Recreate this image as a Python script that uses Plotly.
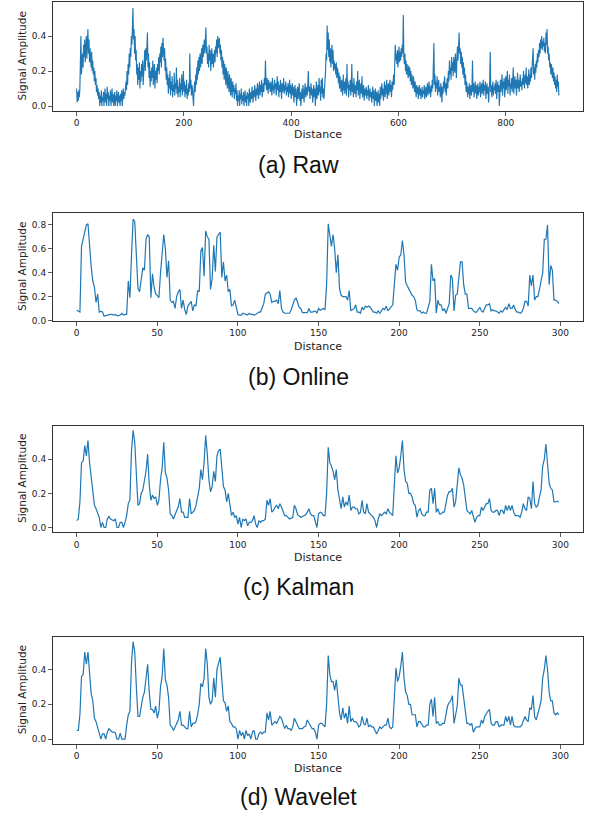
import plotly.graph_objects as go

raw = [
0.10,0.02,0.08,0.03,0.09,0.05,0.10,0.22,0.40,0.18,
0.25,0.30,0.22,0.35,0.28,0.38,0.25,0.32,0.40,0.27,
0.36,0.44,0.30,0.38,0.25,0.33,0.28,0.22,0.31,0.20,
0.26,0.18,0.22,0.14,0.20,0.12,0.16,0.08,0.12,0.06,
0.10,0.04,0.08,0.00,0.06,0.02,0.09,0.00,0.05,0.03,
0.08,0.00,0.06,0.10,0.02,0.07,0.00,0.11,0.04,0.08,
0.00,0.06,0.03,0.09,0.00,0.05,0.10,0.02,0.07,0.00,
0.04,0.08,0.00,0.06,0.03,0.09,0.00,0.05,0.08,0.02,
0.06,0.00,0.07,0.03,0.09,0.00,0.05,0.10,0.04,0.08,
0.06,0.10,0.14,0.09,0.20,0.12,0.24,0.18,0.30,0.22,
0.33,0.28,0.40,0.35,0.48,0.56,0.38,0.44,0.30,0.40,
0.26,0.32,0.18,0.24,0.12,0.22,0.15,0.25,0.10,0.20,
0.14,0.24,0.17,0.26,0.12,0.22,0.18,0.32,0.20,0.33,
0.26,0.34,0.42,0.22,0.30,0.16,0.25,0.11,0.20,0.14,
0.22,0.16,0.26,0.12,0.18,0.24,0.10,0.20,0.15,0.22,
0.13,0.24,0.20,0.28,0.18,0.30,0.25,0.34,0.22,0.36,
0.28,0.39,0.30,0.26,0.33,0.20,0.27,0.15,0.22,0.12,
0.18,0.07,0.16,0.10,0.20,0.06,0.14,0.09,0.17,0.05,
0.12,0.08,0.19,0.06,0.13,0.10,0.22,0.07,0.15,0.05,
0.11,0.08,0.16,0.05,0.13,0.09,0.18,0.06,0.12,0.20,
0.08,0.14,0.05,0.12,0.07,0.15,0.04,0.10,0.06,0.13,
0.08,0.30,0.10,0.15,0.06,0.12,0.09,0.03,0.00,0.10,
0.14,0.08,0.18,0.12,0.22,0.15,0.26,0.18,0.28,0.20,
0.30,0.22,0.26,0.33,0.24,0.35,0.28,0.32,0.38,0.30,
0.36,0.45,0.30,0.34,0.24,0.30,0.22,0.35,0.26,0.32,
0.20,0.28,0.33,0.24,0.30,0.22,0.27,0.32,0.25,0.34,
0.30,0.38,0.28,0.40,0.33,0.36,0.39,0.30,0.35,0.26,
0.32,0.22,0.28,0.18,0.26,0.15,0.24,0.20,0.12,0.22,
0.16,0.10,0.20,0.14,0.08,0.18,0.12,0.06,0.16,0.10,
0.05,0.14,0.08,0.12,0.04,0.10,0.07,0.13,0.03,0.09,
0.00,0.06,0.03,0.09,0.00,0.07,0.04,0.10,0.01,0.06,
0.03,0.08,0.00,0.05,0.09,0.02,0.06,0.00,0.08,0.04,
0.07,0.00,0.10,0.05,0.02,0.08,0.04,0.11,0.06,0.02,
0.09,0.05,0.12,0.07,0.03,0.10,0.06,0.13,0.08,0.04,
0.11,0.14,0.06,0.12,0.08,0.15,0.05,0.10,0.13,0.08,
0.16,0.12,0.26,0.14,0.09,0.16,0.11,0.07,0.15,0.10,
0.13,0.08,0.14,0.11,0.06,0.16,0.09,0.12,0.07,0.15,
0.10,0.13,0.06,0.11,0.17,0.09,0.14,0.05,0.12,0.08,
0.15,0.10,0.04,0.13,0.08,0.11,0.16,0.07,0.12,0.09,
0.14,0.06,0.11,0.08,0.13,0.05,0.10,0.15,0.07,0.12,
0.04,0.09,0.13,0.06,0.11,0.02,0.08,0.12,0.05,0.10,
0.00,0.07,0.11,0.04,0.09,0.13,0.03,0.08,0.00,0.06,
0.10,0.04,0.12,0.07,0.02,0.09,0.13,0.05,0.08,0.11,
0.06,0.12,0.20,0.08,0.11,0.04,0.09,0.13,0.06,0.10,
0.02,0.08,0.12,0.05,0.10,0.00,0.07,0.14,0.04,0.09,
0.12,0.06,0.16,0.08,0.11,0.03,0.15,0.07,0.16,0.05,
0.10,0.04,0.08,0.13,0.20,0.30,0.26,0.46,0.32,0.42,
0.28,0.38,0.25,0.33,0.22,0.30,0.35,0.24,0.32,0.20,
0.26,0.21,0.24,0.18,0.25,0.16,0.22,0.20,0.13,0.19,
0.10,0.17,0.12,0.08,0.15,0.11,0.06,0.18,0.09,0.14,
0.07,0.12,0.16,0.06,0.24,0.10,0.14,0.05,0.12,0.09,
0.15,0.06,0.11,0.24,0.08,0.13,0.05,0.16,0.10,0.07,
0.12,0.05,0.14,0.09,0.20,0.06,0.11,0.15,0.04,0.10,
0.13,0.07,0.17,0.05,0.09,0.12,0.03,0.10,0.06,0.08,
0.11,0.04,0.09,0.06,0.12,0.03,0.07,0.10,0.05,0.08,
0.02,0.07,0.11,0.04,0.09,0.00,0.06,0.10,0.03,0.08,
0.00,0.05,0.09,0.02,0.07,0.00,0.11,0.04,0.08,0.13,
0.06,0.10,0.03,0.09,0.14,0.05,0.12,0.07,0.15,0.04,
0.10,0.13,0.06,0.11,0.15,0.08,0.12,0.05,0.14,0.09,
0.13,0.18,0.12,0.24,0.35,0.26,0.30,0.24,0.32,0.22,
0.28,0.34,0.25,0.31,0.26,0.33,0.28,0.35,0.30,0.52,
0.28,0.24,0.30,0.20,0.26,0.18,0.24,0.21,0.16,0.23,
0.17,0.22,0.14,0.20,0.12,0.18,0.15,0.10,0.17,0.12,
0.08,0.14,0.10,0.05,0.12,0.07,0.11,0.04,0.09,0.12,
0.06,0.10,0.04,0.08,0.11,0.05,0.09,0.07,0.12,0.04,
0.08,0.11,0.05,0.09,0.13,0.06,0.10,0.14,0.07,0.11,
0.05,0.12,0.08,0.15,0.10,0.20,0.36,0.12,0.18,0.08,
0.14,0.10,0.17,0.06,0.12,0.15,0.08,0.11,0.05,0.13,
0.09,0.02,0.11,0.07,0.14,0.10,0.17,0.08,0.13,0.06,
0.12,0.16,0.10,0.20,0.14,0.26,0.18,0.22,0.15,0.28,
0.20,0.25,0.17,0.28,0.22,0.19,0.30,0.24,0.16,0.29,
0.34,0.26,0.36,0.42,0.30,0.33,0.24,0.31,0.22,0.28,
0.18,0.25,0.16,0.22,0.12,0.18,0.08,0.14,0.10,0.05,
0.11,0.07,0.13,0.04,0.09,0.12,0.06,0.10,0.26,0.08,
0.13,0.05,0.10,0.14,0.07,0.12,0.04,0.09,0.13,0.06,
0.11,0.08,0.14,0.05,0.10,0.13,0.07,0.11,0.15,0.06,
0.12,0.09,0.14,0.04,0.10,0.13,0.07,0.11,0.02,0.09,
0.14,0.31,0.08,0.12,0.05,0.10,0.14,0.06,0.11,0.09,
0.13,0.07,0.15,0.04,0.10,0.14,0.08,0.12,0.00,0.09,
0.15,0.08,0.12,0.18,0.06,0.14,0.10,0.16,0.05,0.11,
0.17,0.09,0.13,0.20,0.07,0.15,0.11,0.18,0.06,0.13,
0.10,0.16,0.08,0.14,0.22,0.07,0.12,0.17,0.10,0.15,
0.06,0.13,0.19,0.10,0.15,0.08,0.12,0.18,0.11,0.14,
0.09,0.16,0.12,0.20,0.14,0.10,0.18,0.13,0.22,0.12,
0.17,0.10,0.15,0.21,0.12,0.18,0.14,0.22,0.16,0.20,
0.24,0.33,0.18,0.22,0.15,0.24,0.19,0.26,0.22,0.30,
0.25,0.32,0.28,0.36,0.30,0.38,0.33,0.40,0.32,0.37,
0.34,0.39,0.31,0.36,0.30,0.42,0.35,0.44,0.30,0.34,
0.26,0.30,0.22,0.25,0.18,0.24,0.20,0.16,0.22,0.14,
0.19,0.12,0.17,0.10,0.15,0.08,0.18,0.11,0.14,0.06,
]

online = [
0.085,0.075,0.07,0.62,0.68,0.74,0.80,0.81,0.58,0.45,
0.33,0.28,0.15,0.22,0.07,0.075,0.07,0.035,0.04,0.045,
0.045,0.05,0.05,0.045,0.05,0.04,0.04,0.045,0.06,0.045,
0.05,0.05,0.33,0.19,0.55,0.85,0.83,0.55,0.27,0.24,
0.33,0.44,0.42,0.68,0.72,0.70,0.19,0.39,0.28,0.22,
0.21,0.19,0.40,0.58,0.72,0.60,0.36,0.50,0.17,0.15,
0.16,0.10,0.20,0.24,0.26,0.10,0.17,0.09,0.05,0.12,
0.14,0.16,0.08,0.13,0.12,0.25,0.24,0.58,0.61,0.37,
0.75,0.70,0.68,0.26,0.35,0.63,0.41,0.70,0.72,0.74,
0.36,0.49,0.33,0.38,0.24,0.26,0.12,0.13,0.17,0.12,
0.05,0.045,0.045,0.06,0.055,0.045,0.045,0.06,0.05,0.05,
0.045,0.05,0.06,0.07,0.07,0.10,0.14,0.22,0.23,0.24,
0.22,0.15,0.16,0.16,0.17,0.14,0.25,0.10,0.07,0.06,
0.06,0.06,0.06,0.09,0.13,0.17,0.19,0.14,0.11,0.10,
0.065,0.065,0.065,0.065,0.10,0.07,0.07,0.075,0.08,0.06,
0.10,0.085,0.09,0.10,0.09,0.30,0.81,0.70,0.62,0.72,
0.60,0.40,0.55,0.27,0.21,0.20,0.20,0.20,0.17,0.25,
0.08,0.09,0.10,0.13,0.07,0.07,0.06,0.11,0.09,0.12,
0.11,0.12,0.11,0.09,0.07,0.07,0.06,0.08,0.06,0.08,
0.10,0.09,0.12,0.08,0.10,0.12,0.13,0.30,0.47,0.42,
0.53,0.55,0.67,0.55,0.32,0.29,0.26,0.23,0.21,0.20,
0.17,0.09,0.08,0.08,0.06,0.07,0.06,0.06,0.12,0.16,
0.47,0.33,0.35,0.06,0.17,0.13,0.13,0.08,0.10,0.06,
0.10,0.14,0.38,0.35,0.08,0.21,0.22,0.37,0.49,0.49,
0.30,0.22,0.22,0.10,0.10,0.10,0.08,0.07,0.07,0.09,
0.11,0.08,0.07,0.10,0.13,0.13,0.14,0.08,0.09,0.08,
0.08,0.07,0.06,0.08,0.07,0.09,0.11,0.09,0.14,0.10,
0.10,0.13,0.09,0.07,0.07,0.06,0.07,0.10,0.16,0.16,
0.12,0.38,0.29,0.38,0.17,0.20,0.20,0.26,0.33,0.40,
0.68,0.68,0.80,0.30,0.46,0.42,0.17,0.17,0.16,0.14,
]

kalman = [
0.04,0.05,0.15,0.38,0.39,0.48,0.42,0.51,0.38,0.30,
0.22,0.13,0.11,0.09,0.06,0.00,0.03,0.00,0.00,0.05,
0.065,0.05,0.045,0.04,0.05,0.00,0.00,0.03,0.03,0.00,
0.03,0.07,0.14,0.16,0.45,0.57,0.50,0.30,0.13,0.14,
0.20,0.22,0.27,0.33,0.43,0.25,0.16,0.19,0.17,0.18,
0.13,0.16,0.28,0.35,0.50,0.32,0.29,0.22,0.08,0.07,
0.05,0.07,0.10,0.12,0.17,0.09,0.09,0.06,0.06,0.06,
0.17,0.08,0.09,0.10,0.13,0.18,0.23,0.34,0.28,0.38,
0.54,0.43,0.28,0.21,0.24,0.33,0.27,0.42,0.45,0.46,
0.35,0.24,0.22,0.15,0.20,0.14,0.07,0.09,0.06,0.07,
0.02,0.06,0.00,0.05,0.04,0.05,0.01,0.03,0.03,0.04,
0.07,0.02,0.00,0.04,0.03,0.04,0.04,0.05,0.16,0.13,
0.17,0.09,0.10,0.12,0.13,0.11,0.14,0.12,0.09,0.07,
0.07,0.06,0.05,0.055,0.06,0.13,0.11,0.075,0.07,0.06,
0.065,0.07,0.075,0.09,0.11,0.08,0.07,0.07,0.04,0.00,
0.08,0.09,0.085,0.07,0.07,0.20,0.47,0.38,0.36,0.33,
0.28,0.34,0.22,0.15,0.11,0.18,0.12,0.15,0.13,0.19,
0.10,0.12,0.12,0.11,0.11,0.08,0.09,0.16,0.09,0.08,
0.14,0.09,0.08,0.07,0.06,0.04,0.00,0.05,0.08,0.07,
0.08,0.09,0.08,0.11,0.09,0.08,0.07,0.25,0.42,0.32,
0.35,0.42,0.51,0.34,0.27,0.26,0.20,0.20,0.18,0.14,
0.13,0.06,0.10,0.11,0.08,0.07,0.07,0.09,0.09,0.22,
0.23,0.14,0.23,0.09,0.11,0.08,0.08,0.09,0.09,0.14,
0.19,0.21,0.21,0.23,0.12,0.15,0.26,0.35,0.31,0.29,
0.25,0.18,0.10,0.09,0.08,0.10,0.07,0.03,0.06,0.07,
0.07,0.12,0.10,0.12,0.14,0.14,0.17,0.10,0.09,0.09,
0.10,0.10,0.07,0.10,0.10,0.08,0.13,0.10,0.13,0.10,
0.13,0.09,0.07,0.07,0.07,0.06,0.09,0.14,0.11,0.10,
0.18,0.17,0.11,0.27,0.14,0.12,0.13,0.18,0.22,0.36,
0.40,0.49,0.38,0.26,0.23,0.22,0.15,0.15,0.155,0.15,
]

wavelet = [
0.05,0.05,0.14,0.36,0.37,0.50,0.43,0.50,0.38,0.26,
0.22,0.12,0.10,0.07,0.04,0.00,0.03,0.03,0.00,0.04,
0.06,0.05,0.04,0.04,0.035,0.00,0.00,0.035,0.00,0.00,
0.00,0.08,0.14,0.16,0.44,0.56,0.50,0.30,0.13,0.13,
0.19,0.24,0.27,0.35,0.43,0.27,0.17,0.17,0.15,0.19,
0.12,0.16,0.30,0.36,0.52,0.34,0.31,0.24,0.08,0.07,
0.05,0.07,0.09,0.11,0.16,0.08,0.08,0.07,0.06,0.06,
0.16,0.07,0.09,0.09,0.10,0.14,0.20,0.32,0.30,0.35,
0.52,0.43,0.24,0.20,0.22,0.35,0.24,0.40,0.43,0.47,
0.34,0.22,0.21,0.16,0.19,0.10,0.09,0.07,0.07,0.06,
0.00,0.05,0.02,0.04,0.00,0.05,0.02,0.03,0.00,0.04,
0.05,0.00,0.00,0.03,0.04,0.03,0.04,0.04,0.15,0.11,
0.16,0.08,0.09,0.10,0.09,0.11,0.13,0.12,0.09,0.06,
0.08,0.06,0.06,0.05,0.07,0.12,0.10,0.08,0.06,0.06,
0.06,0.07,0.075,0.11,0.09,0.07,0.06,0.06,0.04,0.00,
0.08,0.09,0.09,0.08,0.07,0.20,0.48,0.37,0.33,0.33,
0.28,0.34,0.22,0.15,0.11,0.18,0.12,0.15,0.09,0.19,
0.10,0.12,0.10,0.10,0.09,0.07,0.08,0.13,0.09,0.08,
0.12,0.07,0.08,0.07,0.07,0.05,0.03,0.05,0.07,0.06,
0.07,0.08,0.08,0.12,0.07,0.06,0.07,0.22,0.41,0.33,
0.36,0.42,0.50,0.35,0.27,0.25,0.20,0.20,0.14,0.14,
0.14,0.07,0.10,0.10,0.08,0.07,0.07,0.08,0.08,0.20,
0.23,0.13,0.24,0.09,0.10,0.08,0.08,0.09,0.09,0.15,
0.19,0.21,0.22,0.25,0.09,0.14,0.19,0.35,0.31,0.31,
0.24,0.17,0.09,0.09,0.08,0.09,0.04,0.06,0.07,0.07,
0.07,0.11,0.09,0.13,0.15,0.16,0.17,0.09,0.08,0.08,
0.10,0.10,0.07,0.08,0.08,0.08,0.13,0.10,0.13,0.08,
0.13,0.08,0.07,0.07,0.07,0.07,0.08,0.10,0.13,0.11,
0.10,0.18,0.17,0.25,0.13,0.11,0.14,0.18,0.22,0.35,
0.40,0.48,0.40,0.27,0.22,0.22,0.15,0.14,0.15,0.14,
]

captions = ["(a) Raw", "(b) Online", "(c) Kalman", "(d) Wavelet"]
series = [raw, online, kalman, wavelet]
x_ticks = [[0, 200, 400, 600, 800], [0, 50, 100, 150, 200, 250, 300],
           [0, 50, 100, 150, 200, 250, 300], [0, 50, 100, 150, 200, 250, 300]]
y_ticks = [[0.0, 0.2, 0.4], [0.0, 0.2, 0.4, 0.6, 0.8], [0.0, 0.2, 0.4], [0.0, 0.2, 0.4]]

W, H = 593, 816
boxes = [(2, 111), (213, 321), (425.7, 532.3), (636.7, 744)]
left_px, right_px = 52.5, 583
x_ranges = [[-45, 944], [-15, 314], [-15, 314], [-15, 314]]
y_ranges = [[-0.028, 0.594], [-0.005, 0.90], [-0.028, 0.597], [-0.028, 0.588]]
xlabel_y = [135, 346, 557, 768]
caption_y = [165, 377, 587, 797]

color = "#1f77b4"
fig = go.Figure()
layout = dict(width=W, height=H, margin=dict(l=0, r=0, t=0, b=0, autoexpand=False),
              paper_bgcolor="white", plot_bgcolor="white", showlegend=False)
annotations = []
tickfont = dict(family="DejaVu Sans", size=9, color="#222")
for k in range(4):
    s = "" if k == 0 else str(k + 1)
    ys = series[k]
    fig.add_trace(go.Scatter(x=list(range(len(ys))), y=ys, mode="lines",
                             line=dict(color=color, width=1.15 if k == 0 else 1.2),
                             xaxis="x" + s, yaxis="y" + s, hoverinfo="skip"))
    top, bot = boxes[k]
    axis_common = dict(showline=True, mirror=True, linecolor="#333", linewidth=1,
                       ticks="outside", ticklen=3.5, tickwidth=0.8, tickcolor="#333",
                       showgrid=False, zeroline=False, tickfont=tickfont, automargin=False)
    layout["xaxis" + s] = dict(domain=[left_px / W, right_px / W], range=x_ranges[k],
                               tickvals=x_ticks[k], ticktext=[str(v) for v in x_ticks[k]],
                               anchor="y" + s, **axis_common)
    layout["yaxis" + s] = dict(domain=[1 - bot / H, 1 - top / H], range=y_ranges[k],
                               tickvals=y_ticks[k], ticktext=["%.1f" % v for v in y_ticks[k]],
                               anchor="x" + s, **axis_common)
    annotations.append(dict(text="Signal Amplitude", x=22 / W, y=1 - (top + bot) / 2 / H,
                            xref="paper", yref="paper", showarrow=False, textangle=-90,
                            font=dict(family="DejaVu Sans", size=10.5, color="#222"),
                            xanchor="center", yanchor="middle"))
    annotations.append(dict(text="Distance", x=(left_px + right_px) / 2 / W, y=1 - xlabel_y[k] / H,
                            xref="paper", yref="paper", showarrow=False,
                            font=dict(family="DejaVu Sans", size=11, color="#222"),
                            xanchor="center", yanchor="middle"))
    annotations.append(dict(text=captions[k], x=298 / W, y=1 - caption_y[k] / H,
                            xref="paper", yref="paper", showarrow=False,
                            font=dict(family="Liberation Sans", size=23, color="#111"),
                            xanchor="center", yanchor="middle"))
layout["annotations"] = annotations
fig.update_layout(**layout)
fig.write_html("out.html", config={"displayModeBar": False, "staticPlot": True},
               post_script="document.body.style.margin='0';document.body.style.padding='0';")
